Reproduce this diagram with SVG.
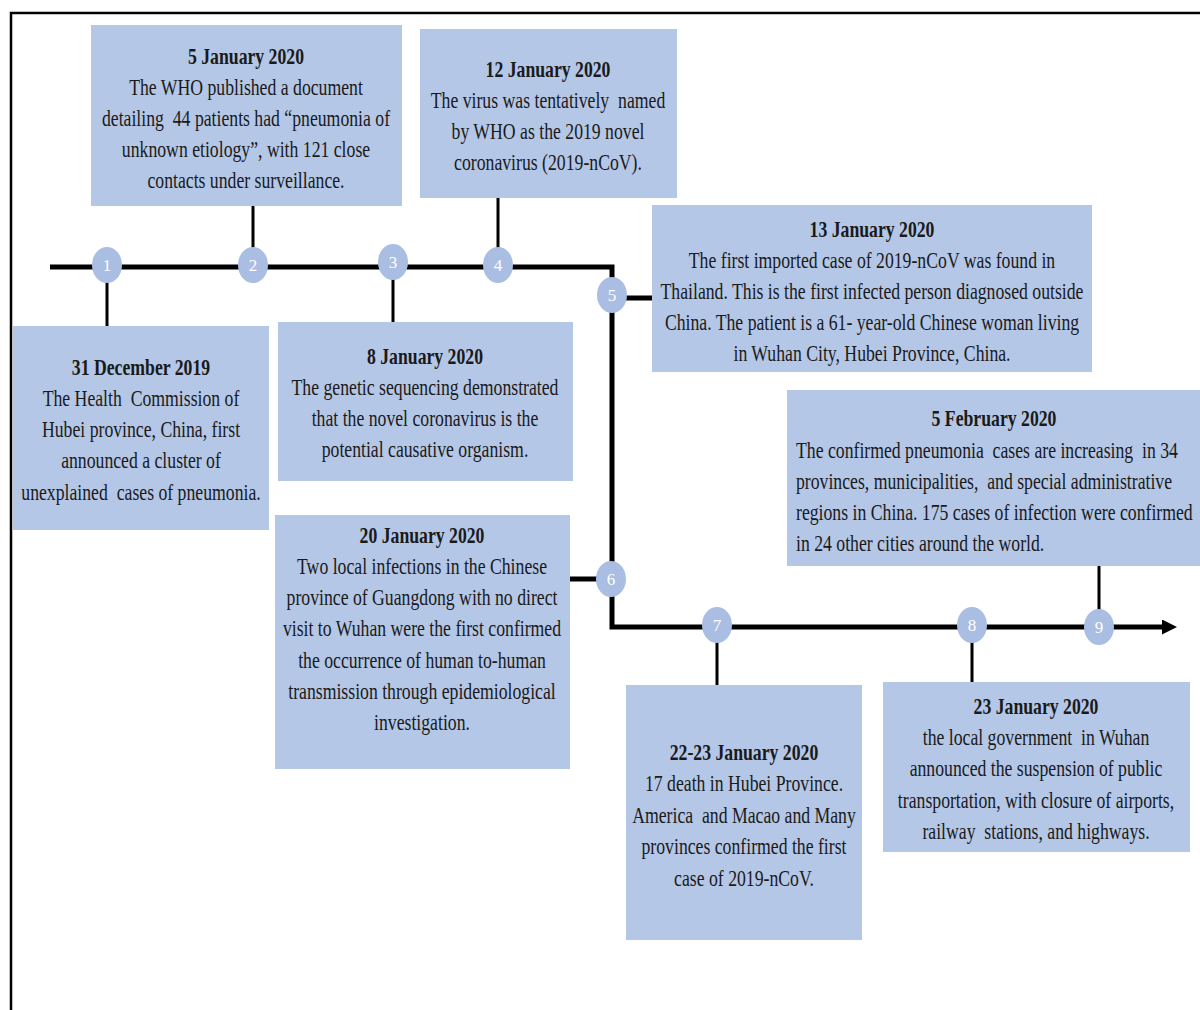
<svg xmlns="http://www.w3.org/2000/svg" width="1200" height="1010" viewBox="0 0 1200 1010">
<style>
.box{fill:#b4c7e7}
.t{font-family:"Liberation Serif","Times New Roman",serif;font-size:23px;fill:#1a1a1a;text-anchor:middle;white-space:pre}
.tl{text-anchor:start}
.h{font-weight:bold}
.dot{fill:#a9bee2}
.num{font-family:"Liberation Serif",serif;font-size:17px;fill:#ffffff;text-anchor:middle}
.ln{stroke:#000;stroke-width:5;fill:none}
.cn{stroke:#000;stroke-width:3;fill:none}
</style>
<defs>
<marker id="arr" viewBox="0 0 10 10" refX="0" refY="5" markerWidth="3" markerHeight="3" orient="auto" markerUnits="strokeWidth">
<path d="M0,0 L10,5 L0,10 z" fill="#000"/>
</marker>
</defs>
<rect x="0" y="0" width="1200" height="1010" fill="#fff"/>
<path d="M11,1010 V13 H1200" fill="none" stroke="#000" stroke-width="2.5"/>

<g id="connectors">
<path class="ln" d="M50,267 H612 V627 H1162" marker-end="url(#arr)"/>
<path class="cn" d="M107,267 V326"/>
<path class="cn" d="M253,206 V267"/>
<path class="cn" d="M393,267 V322"/>
<path class="cn" d="M498,198 V267"/>
<path class="ln" d="M612,298 H652"/>
<path class="ln" d="M570,579 H612"/>
<path class="cn" d="M717,627 V685"/>
<path class="cn" d="M972,627 V682"/>
<path class="cn" d="M1099,566 V627"/>
</g>

<g id="node1">
<rect class="box" x="13" y="326" width="256" height="204"/>
<text class="t" transform="translate(141 0) scale(0.77 1)"><tspan class="h" x="0" y="375">31 December 2019</tspan><tspan x="0" y="406">The Health  Commission of</tspan><tspan x="0" y="437">Hubei province, China, first</tspan><tspan x="0" y="468">announced a cluster of</tspan><tspan x="0" y="500">unexplained  cases of pneumonia.</tspan></text>
</g>
<g id="node2">
<rect class="box" x="91" y="25" width="311" height="181"/>
<text class="t" transform="translate(246 0) scale(0.77 1)"><tspan class="h" x="0" y="64">5 January 2020</tspan><tspan x="0" y="95">The WHO published a document</tspan><tspan x="0" y="126">detailing  44 patients had “pneumonia of</tspan><tspan x="0" y="157">unknown etiology”, with 121 close</tspan><tspan x="0" y="188">contacts under surveillance.</tspan></text>
</g>
<g id="node3">
<rect class="box" x="278" y="322" width="295" height="159"/>
<text class="t" transform="translate(425 0) scale(0.77 1)"><tspan class="h" x="0" y="364">8 January 2020</tspan><tspan x="0" y="395">The genetic sequencing demonstrated</tspan><tspan x="0" y="426">that the novel coronavirus is the</tspan><tspan x="0" y="457">potential causative organism.</tspan></text>
</g>
<g id="node4">
<rect class="box" x="420" y="29" width="257" height="169"/>
<text class="t" transform="translate(548 0) scale(0.77 1)"><tspan class="h" x="0" y="77">12 January 2020</tspan><tspan x="0" y="108">The virus was tentatively  named</tspan><tspan x="0" y="139">by WHO as the 2019 novel</tspan><tspan x="0" y="170">coronavirus (2019-nCoV).</tspan></text>
</g>
<g id="node5">
<rect class="box" x="652" y="205" width="440" height="167"/>
<text class="t" transform="translate(872 0) scale(0.77 1)"><tspan class="h" x="0" y="237">13 January 2020</tspan><tspan x="0" y="268">The first imported case of 2019-nCoV was found in</tspan><tspan x="0" y="299">Thailand. This is the first infected person diagnosed outside</tspan><tspan x="0" y="330">China. The patient is a 61- year-old Chinese woman living</tspan><tspan x="0" y="361">in Wuhan City, Hubei Province, China.</tspan></text>
</g>
<g id="node6">
<rect class="box" x="275" y="515" width="295" height="254"/>
<text class="t" transform="translate(422 0) scale(0.77 1)"><tspan class="h" x="0" y="543">20 January 2020</tspan><tspan x="0" y="574">Two local infections in the Chinese</tspan><tspan x="0" y="605">province of Guangdong with no direct</tspan><tspan x="0" y="636">visit to Wuhan were the first confirmed</tspan><tspan x="0" y="668">the occurrence of human to-human</tspan><tspan x="0" y="699">transmission through epidemiological</tspan><tspan x="0" y="730">investigation.</tspan></text>
</g>
<g id="node7">
<rect class="box" x="626" y="685" width="236" height="255"/>
<text class="t" transform="translate(744 0) scale(0.77 1)"><tspan class="h" x="0" y="760">22-23 January 2020</tspan><tspan x="0" y="791">17 death in Hubei Province.</tspan><tspan x="0" y="823">America  and Macao and Many</tspan><tspan x="0" y="854">provinces confirmed the first</tspan><tspan x="0" y="886">case of 2019-nCoV.</tspan></text>
</g>
<g id="node8">
<rect class="box" x="883" y="682" width="307" height="170"/>
<text class="t" transform="translate(1036 0) scale(0.77 1)"><tspan class="h" x="0" y="714">23 January 2020</tspan><tspan x="0" y="745">the local government  in Wuhan</tspan><tspan x="0" y="776">announced the suspension of public</tspan><tspan x="0" y="808">transportation, with closure of airports,</tspan><tspan x="0" y="839">railway  stations, and highways.</tspan></text>
</g>
<g id="node9">
<rect class="box" x="787" y="390" width="413" height="176"/>
<text class="t h" transform="translate(994 0) scale(0.77 1)" x="0" y="426">5 February 2020</text>
<text class="t tl" transform="translate(796 0) scale(0.77 1)"><tspan x="0" y="458">The confirmed pneumonia  cases are increasing  in 34</tspan><tspan x="0" y="489">provinces, municipalities,  and special administrative</tspan><tspan x="0" y="520">regions in China. 175 cases of infection were confirmed</tspan><tspan x="0" y="551">in 24 other cities around the world.</tspan></text>
</g>

<g id="markers">
<g id="m1"><ellipse class="dot" cx="107" cy="265" rx="15" ry="18"/><text class="num" x="107" y="271">1</text></g>
<g id="m2"><ellipse class="dot" cx="253" cy="265" rx="15" ry="18"/><text class="num" x="253" y="271">2</text></g>
<g id="m3"><ellipse class="dot" cx="393" cy="262" rx="15" ry="18"/><text class="num" x="393" y="268">3</text></g>
<g id="m4"><ellipse class="dot" cx="498" cy="265" rx="15" ry="18"/><text class="num" x="498" y="271">4</text></g>
<g id="m5"><ellipse class="dot" cx="612" cy="295" rx="15" ry="18"/><text class="num" x="612" y="301">5</text></g>
<g id="m6"><ellipse class="dot" cx="611" cy="579" rx="15" ry="18"/><text class="num" x="611" y="585">6</text></g>
<g id="m7"><ellipse class="dot" cx="717" cy="625" rx="15" ry="18"/><text class="num" x="717" y="631">7</text></g>
<g id="m8"><ellipse class="dot" cx="972" cy="625" rx="15" ry="18"/><text class="num" x="972" y="631">8</text></g>
<g id="m9"><ellipse class="dot" cx="1099" cy="627" rx="15" ry="18"/><text class="num" x="1099" y="633">9</text></g>
</g>
</svg>
